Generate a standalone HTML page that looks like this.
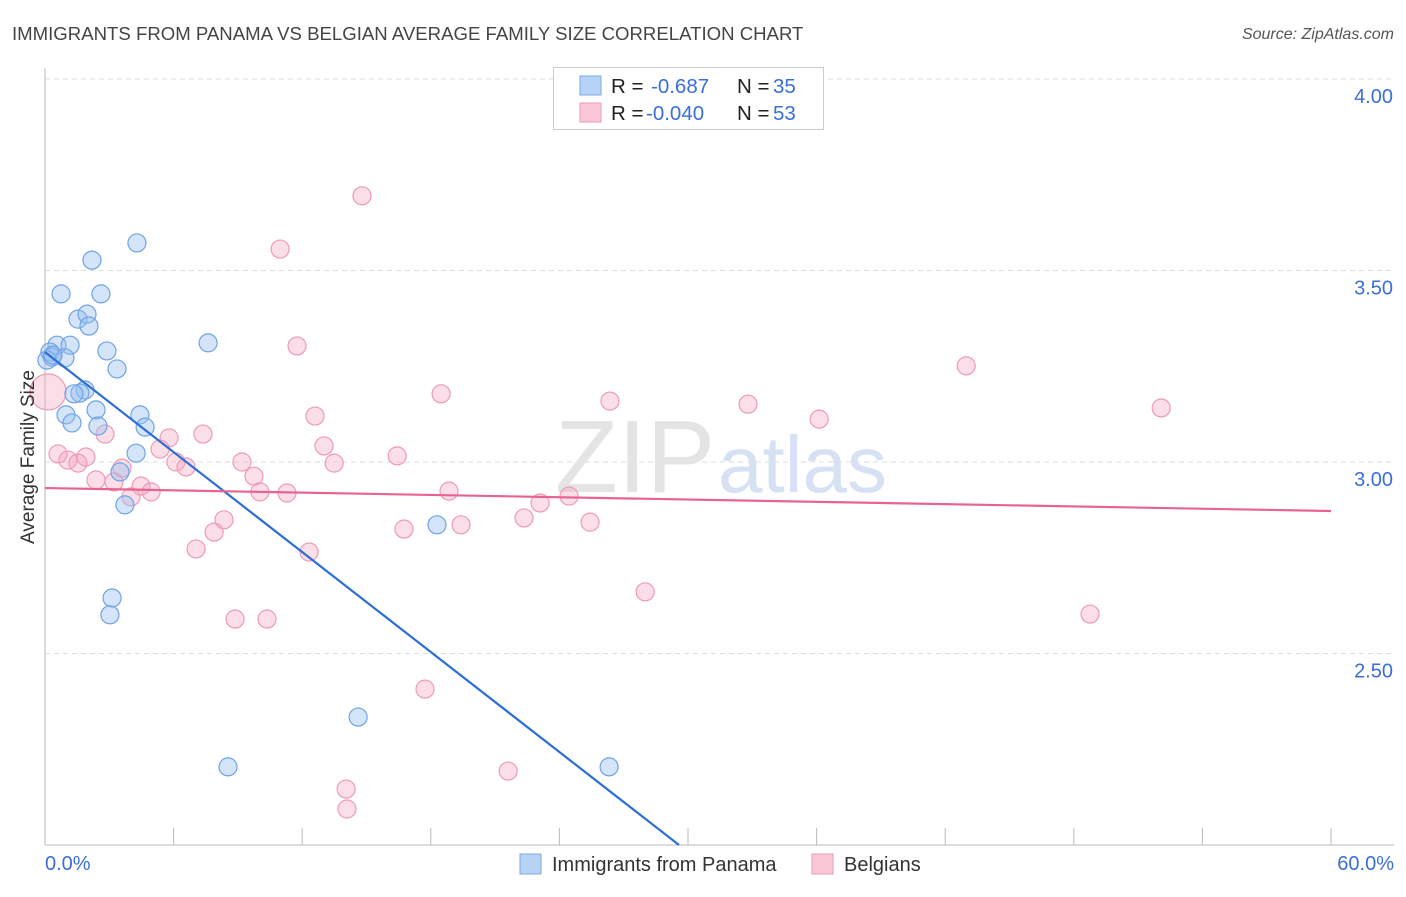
<!DOCTYPE html>
<html><head><meta charset="utf-8"><style>
body{margin:0;background:#fff;font-family:"Liberation Sans",sans-serif;}
svg text{font-family:"Liberation Sans",sans-serif;}
</style></head><body>
<svg id="chart" width="1406" height="892" viewBox="0 0 1406 892" xmlns="http://www.w3.org/2000/svg">
<text x="12" y="40" font-size="18.6" fill="#444">IMMIGRANTS FROM PANAMA VS BELGIAN AVERAGE FAMILY SIZE CORRELATION CHART</text>
<text x="1394" y="39" font-size="16" fill="#555" text-anchor="end" font-style="italic">Source: ZipAtlas.com</text>
<g id="grid"></g>
<text x="555" y="492" font-size="103" fill="#e4e4e4" font-family="Liberation Serif">ZIP</text>
<text x="718" y="492" font-size="80" fill="#d6e2f3">atlas</text>
<g id="points"></g>
<g id="lines"></g>
<text transform="translate(34,457) rotate(-90)" font-size="19" fill="#333" text-anchor="middle">Average Family Size</text>
<text x="45" y="870" font-size="20" fill="#3a6fd8">0.0%</text>
<text x="1394" y="870" font-size="20" fill="#3a6fd8" text-anchor="end">60.0%</text>
<g>
<rect x="553.5" y="67.5" width="270" height="62" fill="#fff" stroke="#ccc"/>
<rect x="580" y="76" width="21" height="19" fill="#b8d3f5" stroke="#7aaae8"/>
<rect x="580" y="103" width="21" height="19" fill="#f9c7d6" stroke="#ef9ab5"/>
<text x="611" y="93" font-size="20.5" fill="#222">R = </text><text x="651" y="93" font-size="20.5" fill="#3a6fd8">-0.687</text>
<text x="737" y="93" font-size="20.5" fill="#222">N = </text><text x="773" y="93" font-size="20.5" fill="#3a6fd8">35</text>
<text x="611" y="120" font-size="20.5" fill="#222">R = </text><text x="646" y="120" font-size="20.5" fill="#3a6fd8">-0.040</text>
<text x="737" y="120" font-size="20.5" fill="#222">N = </text><text x="773" y="120" font-size="20.5" fill="#3a6fd8">53</text>
</g>
<g>
<rect x="520" y="854" width="21" height="20" fill="#b8d3f5" stroke="#7aaae8"/>
<text x="552" y="871" font-size="20" fill="#333">Immigrants from Panama</text>
<rect x="812" y="854" width="21" height="20" fill="#f9c7d6" stroke="#ef9ab5"/>
<text x="844" y="871" font-size="20" fill="#333">Belgians</text>
</g>
</svg>
<script>
const yTicks=[2.5,3.0,3.5,4.0];
const yTickLabels=["2.50","3.00","3.50","4.00"];
const blueX=[4.29,2.19,0.75,2.61,1.54,1.96,2.05,0.56,1.17,0.23,0.33,0.93,2.89,3.36,1.87,1.63,1.35,0.98,2.38,1.26,2.47,4.43,4.67,4.25,3.50,3.73,3.13,3.03,7.61,18.29,14.61,8.54,26.32,0.09,0.37];
const blueY=[3.572,3.527,3.439,3.439,3.373,3.386,3.355,3.305,3.305,3.287,3.274,3.272,3.290,3.243,3.188,3.180,3.178,3.123,3.136,3.102,3.094,3.123,3.091,3.023,2.974,2.888,2.645,2.601,3.311,2.836,2.334,2.204,2.204,3.266,3.279];
const pinkX=[14.79,10.97,11.76,18.48,26.36,32.80,36.12,42.98,52.08,12.60,13.02,16.43,13.49,7.37,5.79,2.80,5.37,0.61,1.07,1.54,1.91,3.59,2.38,3.22,4.48,4.95,4.01,6.11,6.58,9.19,9.75,10.03,11.29,18.85,23.10,24.45,22.35,19.41,16.75,25.43,8.35,7.89,7.05,12.32,28.00,8.87,10.36,48.76,17.73,21.61,14.05,14.09,0.14];
const pinkY=[3.695,3.556,3.303,3.178,3.159,3.151,3.112,3.251,3.141,3.120,3.042,3.016,2.997,3.073,3.063,3.073,3.034,3.021,3.005,2.997,3.013,2.984,2.953,2.948,2.937,2.922,2.909,3.000,2.987,3.000,2.963,2.922,2.919,2.924,2.893,2.911,2.854,2.836,2.825,2.843,2.849,2.817,2.773,2.765,2.661,2.590,2.590,2.603,2.407,2.193,2.146,2.094,3.183];
const blueTrend=[3.287,2.0,29.58];
const pinkTrend=[2.932,2.872];
const NS="http://www.w3.org/2000/svg";
const X0=45,X1=1331,Yb=845;
function sx(p){return X0+(p/60)*(X1-X0);}
function sy(v){return 462-(v-3)*383;}
function mk(t,a,p){const e=document.createElementNS(NS,t);for(const k in a)e.setAttribute(k,a[k]);p.appendChild(e);return e;}
const grid=document.getElementById('grid');
yTicks.forEach((v,i)=>{
 const l=mk('line',{x1:X0,x2:1394,y1:sy(v),y2:sy(v),stroke:'#ddd','stroke-dasharray':'5,4'},grid);
 
 
 const t=mk('text',{x:1393,y:sy(v)+24,'font-size':20,fill:'#3a6fd8','text-anchor':'end'},grid);
 t.textContent=yTickLabels[i];
 
 
});
const ax=mk('line',{x1:X0,x2:X0,y1:68,y2:Yb,stroke:'#bbb'},grid);


const bx=mk('line',{x1:X0,x2:1394,y1:Yb,y2:Yb,stroke:'#bbb'},grid);


for(let i=1;i<=10;i++){
 const xx=X0+i*(X1-X0)/10;
 const tk=mk('line',{x1:xx,x2:xx,y1:828,y2:Yb,stroke:'#bbb'},grid);
 
 
}
const pts=document.getElementById('points');
pinkX.forEach((x,i)=>{
 const big=(i===pinkX.length-1);
 const c=mk('circle',{cx:sx(x),cy:sy(pinkY[i]),r:big?18:9,fill:'rgba(244,160,188,0.35)',stroke:'#ee9ab6','stroke-width':1.2},pts);
 
 
});
blueX.forEach((x,i)=>{
 const c=mk('circle',{cx:sx(x),cy:sy(blueY[i]),r:9,fill:'rgba(150,190,240,0.4)',stroke:'#6fa2e6','stroke-width':1.2},pts);
 
 
});
const lines=document.getElementById('lines');
const bl=mk('line',{x1:sx(0),y1:sy(blueTrend[0]),x2:sx(blueTrend[2]),y2:sy(blueTrend[1]),stroke:'#2b6fd6','stroke-width':2.2},lines);


const pl=mk('line',{x1:sx(0),y1:sy(pinkTrend[0]),x2:sx(60),y2:sy(pinkTrend[1]),stroke:'#e8638f','stroke-width':2.2},lines);


</script>
</body></html>
